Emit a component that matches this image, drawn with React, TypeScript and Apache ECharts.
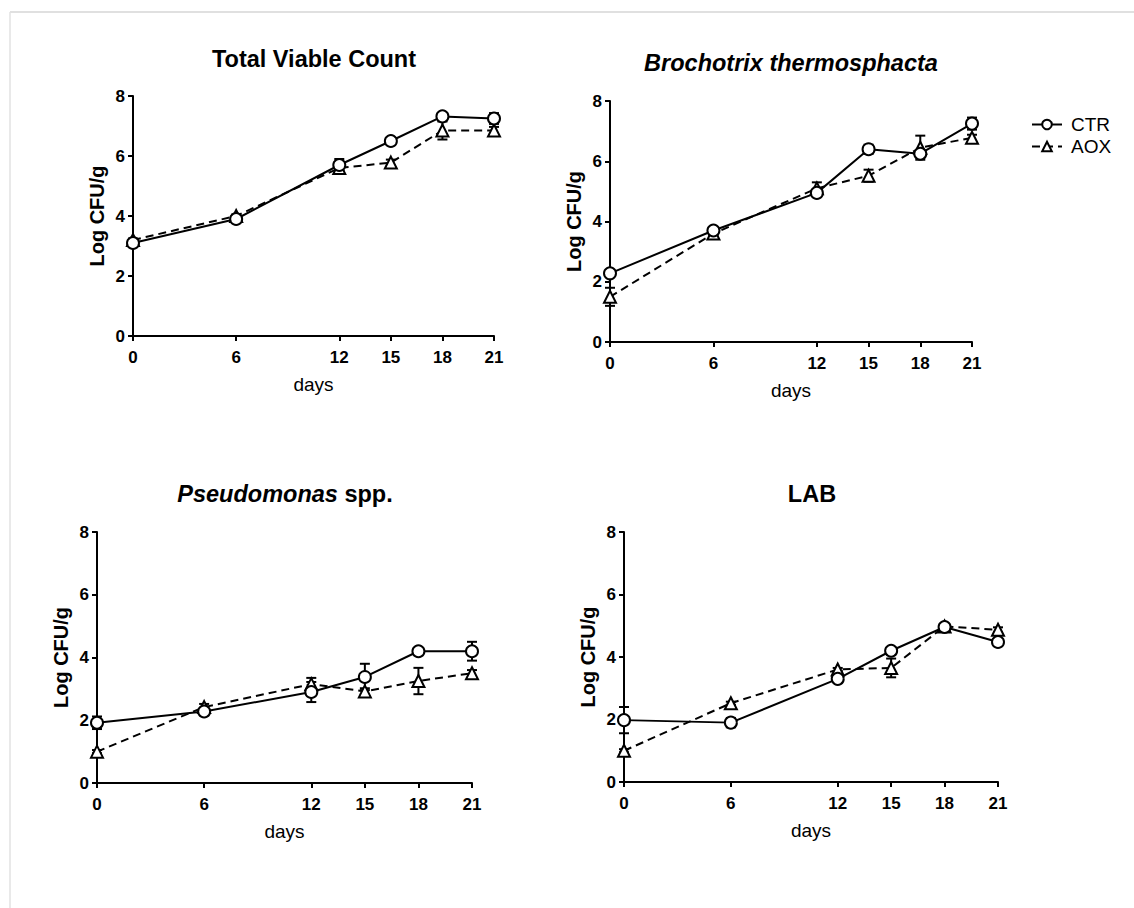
import React, { useEffect, useRef } from "react";
import * as echarts from "echarts";

const days = [0, 6, 12, 15, 18, 21];
const dayTicks = [0, 6, 12, 15, 18, 21];

const titles = ["Total Viable Count", "Brochotrix thermosphacta", "Pseudomonas spp.", "LAB"];

const tvcCtr = [3.1, 3.9, 5.7, 6.5, 7.32, 7.25];
const tvcCtrErr = [0.08, 0.08, 0.2, 0.05, 0.05, 0.18];
const tvcAox = [3.2, 4.0, 5.6, 5.78, 6.85, 6.85];
const tvcAoxErr = [0.05, 0.05, 0.1, 0.1, 0.3, 0.12];

const broCtr = [2.28, 3.7, 4.95, 6.4, 6.25, 7.25];
const broCtrErr = [0.1, 0.08, 0.08, 0.15, 0.1, 0.2];
const broAox = [1.5, 3.6, 5.1, 5.52, 6.45, 6.78];
const broAoxErr = [0.3, 0.08, 0.2, 0.2, 0.4, 0.1];

const pseCtr = [1.92, 2.28, 2.9, 3.38, 4.2, 4.2];
const pseCtrErr = [0.2, 0.12, 0.32, 0.42, 0.05, 0.3];
const pseAox = [1.0, 2.42, 3.15, 2.92, 3.25, 3.5];
const pseAoxErr = [0.05, 0.1, 0.2, 0.1, 0.42, 0.1];

const labCtr = [1.98, 1.9, 3.3, 4.2, 4.96, 4.48];
const labCtrErr = [0.42, 0.15, 0.08, 0.12, 0.05, 0.1];
const labAox = [1.0, 2.52, 3.6, 3.65, 4.98, 4.87];
const labAoxErr = [0.05, 0.05, 0.05, 0.3, 0.05, 0.08];

const panels = [
  { ctr: tvcCtr, ctrErr: tvcCtrErr, aox: tvcAox, aoxErr: tvcAoxErr },
  { ctr: broCtr, ctrErr: broCtrErr, aox: broAox, aoxErr: broAoxErr },
  { ctr: pseCtr, ctrErr: pseCtrErr, aox: pseAox, aoxErr: pseAoxErr },
  { ctr: labCtr, ctrErr: labCtrErr, aox: labAox, aoxErr: labAoxErr },
];

const FONT = "'Liberation Sans', Arial, sans-serif";

const grids = [
  { left: 133, top: 96, width: 361, height: 240 },
  { left: 610, top: 101, width: 362, height: 241 },
  { left: 97, top: 532, width: 375, height: 251 },
  { left: 624, top: 532, width: 374, height: 250 },
];

const titlePos = [
  { x: 314, y: 47 },
  { x: 791, y: 51 },
  { x: 285, y: 482 },
  { x: 812, y: 482 },
];

export default function App() {
  const ref = useRef<HTMLDivElement>(null);
  useEffect(() => {
    document.body.style.margin = "0";
    if (!ref.current) return;
    const chart = echarts.init(ref.current, undefined, { renderer: "svg" });

    const errRender = (params: any, api: any) => {
      const x = api.value(0);
      const y = api.value(1);
      const e = api.value(2);
      if (!e) return { type: "group", children: [] };
      const top = api.coord([x, y + e]);
      const bot = api.coord([x, y - e]);
      const cap = 5;
      const st = { stroke: "#000", lineWidth: 2 };
      return {
        type: "group",
        children: [
          { type: "line", shape: { x1: top[0], y1: top[1], x2: bot[0], y2: bot[1] }, style: st },
          { type: "line", shape: { x1: top[0] - cap, y1: top[1], x2: top[0] + cap, y2: top[1] }, style: st },
          { type: "line", shape: { x1: bot[0] - cap, y1: bot[1], x2: bot[0] + cap, y2: bot[1] }, style: st },
        ],
      };
    };

    const series: any[] = [];
    panels.forEach((p, i) => {
      series.push({
        type: "custom",
        xAxisIndex: i,
        yAxisIndex: i,
        renderItem: errRender,
        data: days.map((d, k) => [d, p.ctr[k], p.ctrErr[k]]),
        z: 1,
      });
      series.push({
        type: "custom",
        xAxisIndex: i,
        yAxisIndex: i,
        renderItem: errRender,
        data: days.map((d, k) => [d, p.aox[k], p.aoxErr[k]]),
        z: 1,
      });
      series.push({
        name: "CTR",
        type: "line",
        xAxisIndex: i,
        yAxisIndex: i,
        data: days.map((d, k) => [d, p.ctr[k]]),
        symbol: "emptyCircle",
        symbolSize: 12,
        lineStyle: { color: "#000", width: 2 },
        itemStyle: { color: "#000", borderWidth: 2 },
        z: 3,
      });
      series.push({
        name: "AOX",
        type: "line",
        xAxisIndex: i,
        yAxisIndex: i,
        data: days.map((d, k) => [d, p.aox[k]]),
        symbol: "emptyTriangle",
        symbolSize: 12,
        lineStyle: { color: "#000", width: 2, type: [8, 5] },
        itemStyle: { color: "#000", borderWidth: 2 },
        z: 2,
      });
    });

    const xAxes = grids.map((_, i) => ({
      type: "value",
      gridIndex: i,
      min: 0,
      max: 21,
      name: "days",
      nameLocation: "middle",
      nameGap: 39,
      nameTextStyle: { fontFamily: FONT, fontSize: 19, color: "#000" },
      axisLine: { show: true, lineStyle: { color: "#000", width: 2 } },
      axisTick: { show: true, customValues: dayTicks, length: 5, lineStyle: { color: "#000", width: 2 } },
      axisLabel: { customValues: dayTicks, fontFamily: FONT, fontSize: 17, fontWeight: "bold", color: "#000", margin: 13 },
      splitLine: { show: false },
    }));

    const yAxes = grids.map((_, i) => ({
      type: "value",
      gridIndex: i,
      min: 0,
      max: 8,
      interval: 2,
      name: "Log CFU/g",
      nameLocation: "middle",
      nameGap: 26,
      nameTextStyle: { fontFamily: FONT, fontSize: 20, fontWeight: "bold", color: "#000" },
      axisLine: { show: true, lineStyle: { color: "#000", width: 2 } },
      axisTick: { show: true, length: 5, lineStyle: { color: "#000", width: 2 } },
      axisLabel: { fontFamily: FONT, fontSize: 17, fontWeight: "bold", color: "#000", margin: 8 },
      splitLine: { show: false },
    }));

    const titleOpts = titles.map((t, i) => {
      let text = t;
      if (i === 1) text = "{i|Brochotrix thermosphacta}";
      if (i === 2) text = "{i|Pseudomonas} spp.";
      return {
        text,
        left: titlePos[i].x,
        top: titlePos[i].y,
        textAlign: "center",
        padding: 0,
        textStyle: {
          fontFamily: FONT,
          fontSize: 23.5,
          fontWeight: "bold",
          color: "#000",
          rich: {
            i: { fontFamily: FONT, fontSize: 23.5, fontWeight: "bold", fontStyle: "italic", color: "#000" },
          },
        },
      };
    });

    chart.setOption({
      animation: false,
      backgroundColor: "#fff",
      title: titleOpts,
      grid: grids.map((g) => ({ ...g, containLabel: false })),
      xAxis: xAxes,
      yAxis: yAxes,
      legend: {
        data: ["CTR", "AOX"],
        orient: "vertical",
        left: 1026,
        top: 110,
        itemWidth: 30,
        itemHeight: 12,
        itemGap: 3,
        textStyle: { fontFamily: FONT, fontSize: 19, color: "#000", padding: [0, 0, 0, 4] },
        selectedMode: false,
      },
      graphic: [
        { type: "line", shape: { x1: 10, y1: 12, x2: 1134, y2: 12 }, style: { stroke: "#d6d6d6", lineWidth: 1.5 } },
        { type: "line", shape: { x1: 10, y1: 12, x2: 10, y2: 908 }, style: { stroke: "#e2e2e2", lineWidth: 1.5 } },
      ],
      series,
    });
    return () => chart.dispose();
  }, []);
  return <div ref={ref} style={{ width: 1134, height: 908 }} />;
}
